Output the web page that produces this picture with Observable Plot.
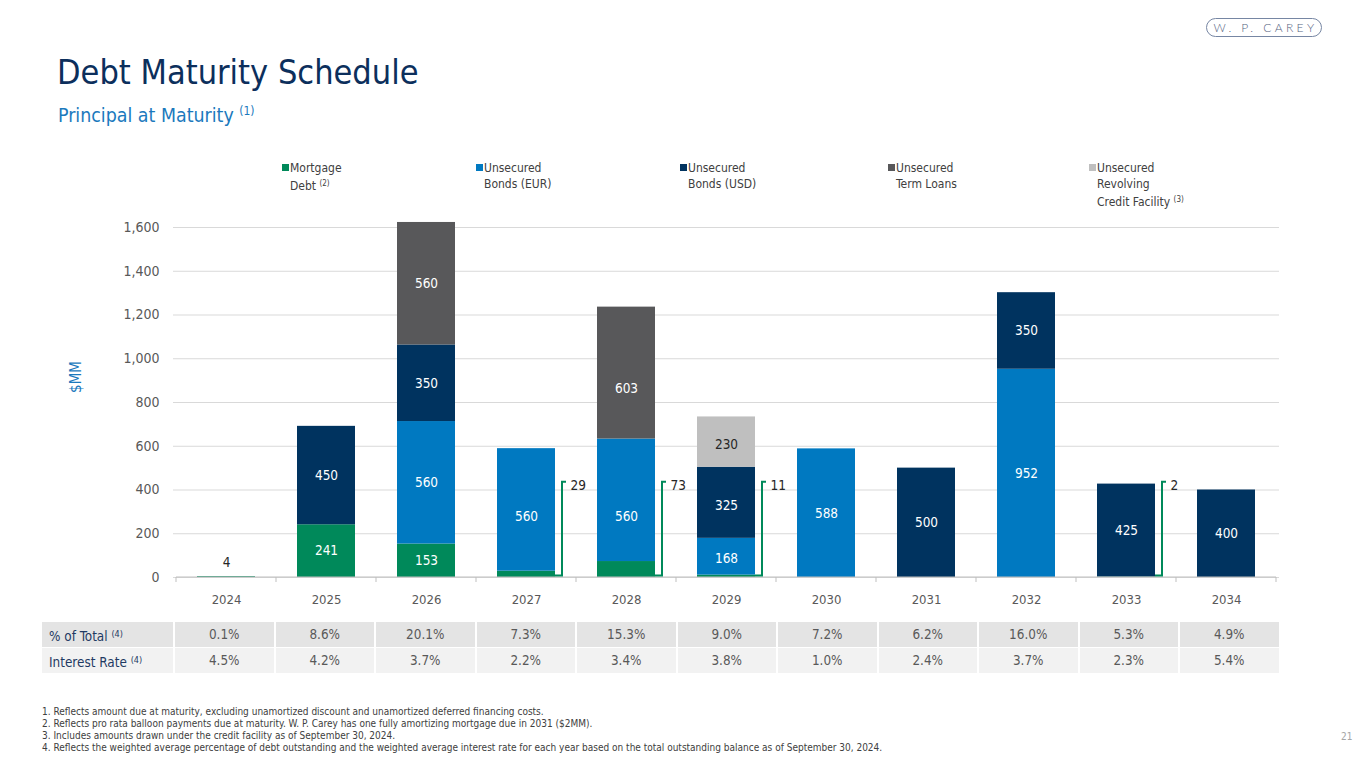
<!DOCTYPE html>
<html><head><meta charset="utf-8">
<script src="https://cdn.jsdelivr.net/npm/d3@7"></script>
<script src="https://cdn.jsdelivr.net/npm/@observablehq/plot@0.6"></script>
<style>
body{margin:0;width:1365px;height:768px;background:#fff;position:relative;overflow:hidden;font-family:"DejaVu Sans Condensed","DejaVu Sans",sans-serif;}
#title{position:absolute;left:57px;top:52px;font-size:34px;color:#0c2f5c;white-space:nowrap;}
#subtitle{position:absolute;left:58px;top:104px;font-size:19.4px;color:#1b79bd;white-space:nowrap;}
#subtitle sup{font-size:12px;vertical-align:7px;}
#logo{position:absolute;left:1206px;top:18px;width:114px;height:17px;border:1.4px solid #7686a3;border-radius:10px;text-align:center;font-family:Lato,"Open Sans",sans-serif;font-weight:300;font-size:12px;line-height:17px;color:#56647f;letter-spacing:3.4px;white-space:nowrap;text-indent:3px;}
#legend .item{position:absolute;top:160px;font-size:12px;line-height:16px;color:#404040;}
#legend .sw{position:absolute;left:-8px;top:4px;width:7px;height:7px;}
#legend sup{font-size:8px;vertical-align:4px;}
#ylab{position:absolute;left:60px;top:368px;transform:rotate(-90deg);font-size:15px;color:#1b79bd;transform-origin:center;}
#chart{position:absolute;left:0;top:200px;}
#tbl{position:absolute;left:42px;top:622px;display:grid;grid-template-columns:131px repeat(11,100.5px);font-size:13.4px;}
#tbl div{height:25px;line-height:25px;box-sizing:border-box;}
#tbl .lab{padding-left:7px;color:#1f3a63;}
#tbl .val{text-align:center;color:#595959;border-left:2px solid #fff;}
#tbl .r0{background:#e4e4e4;border-bottom:1px solid #fff;height:26px;}
#tbl .r1{background:#f2f2f2;}
#tbl sup{font-size:9px;vertical-align:4px;}
#notes{position:absolute;left:42px;top:706px;font-size:10px;line-height:12px;color:#404040;white-space:nowrap;}
#page{position:absolute;left:1341px;top:731px;font-size:10px;color:#a6a6a6;}
</style></head><body>
<div id="title">Debt Maturity Schedule</div>
<div id="subtitle">Principal at Maturity <sup>(1)</sup></div>
<div id="logo">W. P. CAREY</div>
<div id="legend"></div>
<div id="ylab">$MM</div>
<div id="chart"></div>
<div id="tbl"></div>
<div id="notes"></div>
<div id="page">21</div>
<script>
const years = ["2024","2025","2026","2027","2028","2029","2030","2031","2032","2033","2034"];
const mortgageDebt = [4, 241, 153, 29, 73, 11, 0, 0, 0, 2, 0];
const bondsEUR     = [0, 0, 560, 560, 560, 168, 588, 0, 952, 0, 0];
const bondsUSD     = [0, 450, 350, 0, 0, 325, 0, 500, 350, 425, 400];
const termLoans    = [0, 0, 560, 0, 603, 0, 0, 0, 0, 0, 0];
const revolver     = [0, 0, 0, 0, 0, 230, 0, 0, 0, 0, 0];
const seriesKeys = ["Mortgage Debt", "Unsecured Bonds (EUR)", "Unsecured Bonds (USD)", "Unsecured Term Loans", "Unsecured Revolving Credit Facility"];
const legendLabels = [["Mortgage", "Debt <sup>(2)</sup>"], ["Unsecured", "Bonds (EUR)"], ["Unsecured", "Bonds (USD)"], ["Unsecured", "Term Loans"], ["Unsecured", "Revolving", "Credit Facility <sup>(3)</sup>"]];
const seriesColors = ["#00895a", "#0079c1", "#00335f", "#58585a", "#bfbfbf"];
const yTicks = [0, 200, 400, 600, 800, 1000, 1200, 1400, 1600];
const pctOfTotal = ["0.1%", "8.6%", "20.1%", "7.3%", "15.3%", "9.0%", "7.2%", "6.2%", "16.0%", "5.3%", "4.9%"];
const interestRate = ["4.5%", "4.2%", "3.7%", "2.2%", "3.4%", "3.8%", "1.0%", "2.4%", "3.7%", "2.3%", "5.4%"];
const footnotes = [
  "1. Reflects amount due at maturity, excluding unamortized discount and unamortized deferred financing costs.",
  "2. Reflects pro rata balloon payments due at maturity. W. P. Carey has one fully amortizing mortgage due in 2031 ($2MM).",
  "3. Includes amounts drawn under the credit facility as of September 30, 2024.",
  "4. Reflects the weighted average percentage of debt outstanding and the weighted average interest rate for each year based on the total outstanding balance as of September 30, 2024."
];

const seriesValues = [mortgageDebt, bondsEUR, bondsUSD, termLoans, revolver];
const data = [];
seriesValues.forEach((arr, si) => arr.forEach((v, yi) => { if (v > 0) data.push({year: years[yi], series: seriesKeys[si], si, value: v}); }));
const totals = years.map((y, i) => seriesValues.reduce((s, a) => s + a[i], 0));

const inside = data.filter(d => d.value >= 100);
const callouts = data.filter(d => d.si === 0 && d.value < 100 && totals[years.indexOf(d.year)] > d.value);
const above = data.filter(d => d.si === 0 && d.value < 100 && totals[years.indexOf(d.year)] === d.value);
const calloutLevel = 422;

function customAxis(index, scales) {
  const x = scales.x, y = scales.y;
  const bw = typeof x.bandwidth === "function" ? x.bandwidth() : x.bandwidth;
  const step = typeof x.step === "function" ? x.step() : bw / 0.58;
  const g = d3.create("svg:g");
  const y0 = y(0);
  const x0 = x(years[0]) - (step - bw) / 2;
  g.append("line").attr("x1", x0).attr("x2", x0 + step * years.length).attr("y1", y0).attr("y2", y0).attr("stroke", "#bfbfbf").attr("stroke-width", 1.2);
  for (let i = 0; i <= years.length; i++) {
    const xx = x0 + step * i;
    g.append("line").attr("x1", xx).attr("x2", xx).attr("y1", y0).attr("y2", y0 + 5).attr("stroke", "#bfbfbf");
  }
  for (const d of callouts) {
    const xr = x(d.year) + bw;
    const yt = y(calloutLevel) - 3;
    g.append("path").attr("d", `M${xr},${y0 - 1.5}H${xr + 7}V${yt}H${xr + 11}`)
      .attr("fill", "none").attr("stroke", seriesColors[0]).attr("stroke-width", 2);
  }
  return g.node();
}

const chart = Plot.plot({
  width: 1365,
  height: 420,
  marginLeft: 173,
  marginRight: 86,
  marginTop: 27,
  marginBottom: 43,
  style: {fontFamily: "'DejaVu Sans Condensed','DejaVu Sans',sans-serif", background: "transparent"},
  x: {type: "band", domain: years, paddingInner: 0.42, paddingOuter: 0.21},
  y: {domain: [0, 1600]},
  color: {domain: seriesKeys, range: seriesColors},
  marks: [
    Plot.gridY(yTicks, {stroke: "#d9d9d9", strokeOpacity: 1}),
    Plot.axisY({ticks: yTicks, tickSize: 0, tickPadding: 14, tickFormat: d3.format(","), fontSize: 14, fill: "#595959", label: null}),
    Plot.axisX({tickSize: 0, tickPadding: 17, fontSize: 13, fill: "#595959", label: null}),
    Plot.barY(data, {x: "year", y: "value", fill: "series", order: seriesKeys}),
    Plot.text(inside, Plot.stackY({x: "year", y: "value", z: "series", order: seriesKeys, text: d => String(d.value), fill: d => d.si === 4 ? "#262626" : "#ffffff", fontSize: 13.5})),
    Plot.text(above, {x: "year", y: "value", text: d => String(d.value), dy: -14, fill: "#262626", fontSize: 13.5}),
    Plot.text(callouts, {x: "year", y: () => calloutLevel, text: d => String(d.value), dx: 44, textAnchor: "start", fill: "#262626", fontSize: 13.5}),
    customAxis
  ]
});
document.getElementById("chart").appendChild(chart);

const legendX = [290, 484, 688, 896, 1097];
const leg = document.getElementById("legend");
legendLabels.forEach((lines, i) => {
  const it = document.createElement("div");
  it.className = "item";
  it.style.left = legendX[i] + "px";
  it.innerHTML = `<span class="sw" style="background:${seriesColors[i]}"></span>` + lines.join("<br>");
  leg.appendChild(it);
});

const tbl = document.getElementById("tbl");
[["% of Total <sup>(4)</sup>", pctOfTotal, "r0"], ["Interest Rate <sup>(4)</sup>", interestRate, "r1"]].forEach(([lab, vals, cls]) => {
  const l = document.createElement("div"); l.className = "lab " + cls; l.innerHTML = lab; tbl.appendChild(l);
  vals.forEach(v => { const c = document.createElement("div"); c.className = "val " + cls; c.textContent = v; tbl.appendChild(c); });
});

document.getElementById("notes").innerHTML = footnotes.join("<br>");
</script>
</body></html>
